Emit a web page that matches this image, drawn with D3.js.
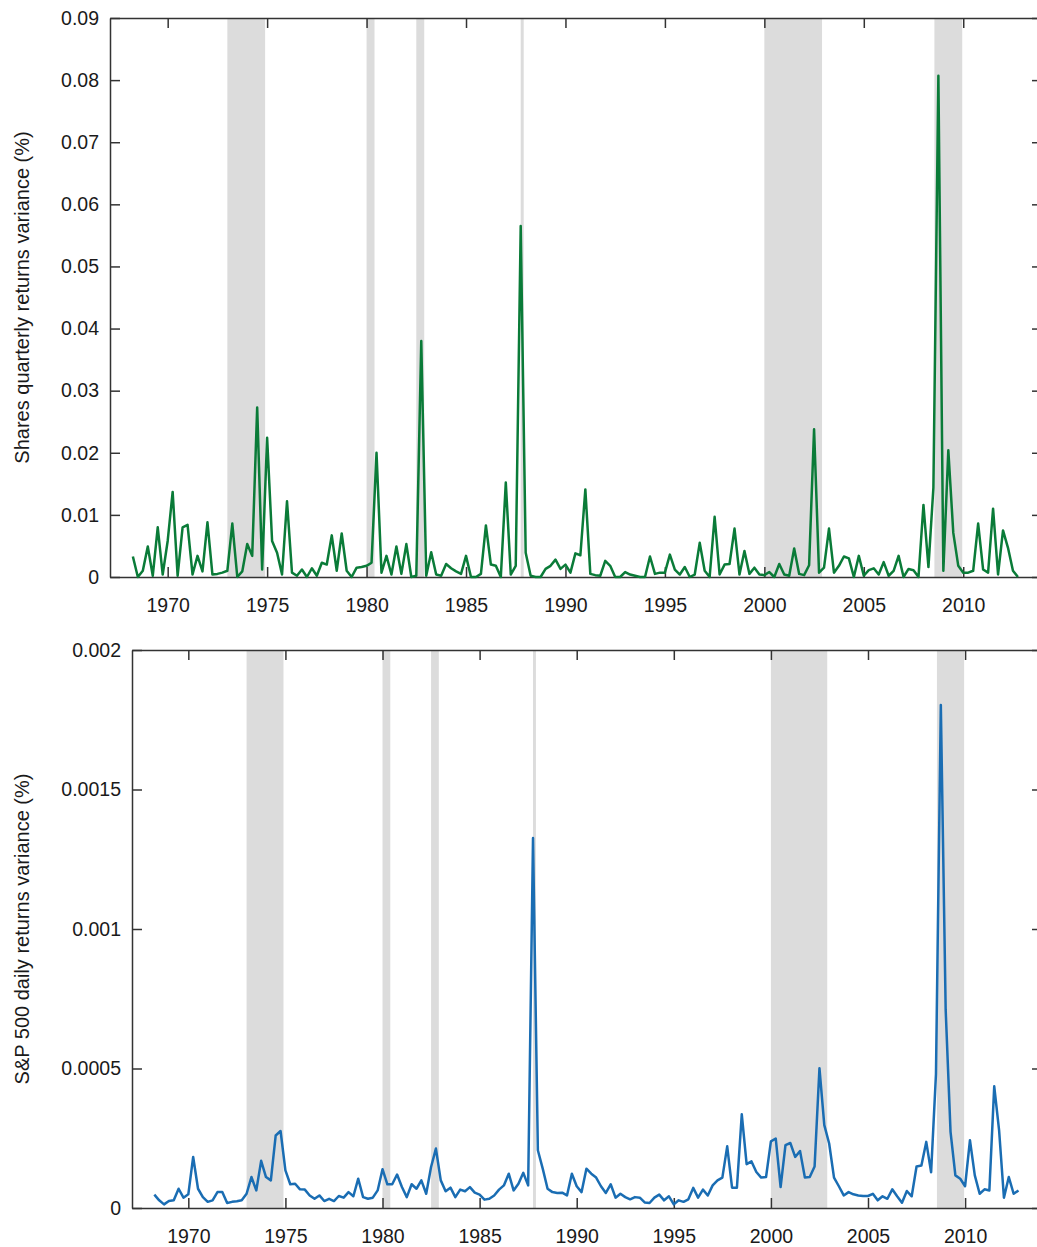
<!DOCTYPE html>
<html>
<head>
<meta charset="utf-8">
<script src="https://cdn.jsdelivr.net/npm/d3@7"></script>
<style>
  body { margin: 0; background: #fff; }
  text { font-family: "Liberation Sans", Arial, sans-serif; }
</style>
</head>
<body>
<script>
// Quarterly observations, first one at 1968.25, one every quarter
const startYear = 1968.25;
const step = 0.25;

// Shares quarterly returns variance (%)
const sharesVar = [
  0.0033, 0.0000, 0.0010, 0.0049, 0.0002, 0.0080, 0.0004, 0.0058, 0.0137, 0.0002,
  0.0080, 0.0084, 0.0004, 0.0034, 0.0009, 0.0088, 0.0004, 0.0005, 0.0007, 0.0010,
  0.0086, 0.0000, 0.0009, 0.0053, 0.0034, 0.0273, 0.0012, 0.0224, 0.0058, 0.0039,
  0.0004, 0.0122, 0.0007, 0.0002, 0.0012, 0.0000, 0.0014, 0.0002, 0.0023, 0.0020,
  0.0067, 0.0010, 0.0070, 0.0010, 0.0000, 0.0015, 0.0016, 0.0018, 0.0023, 0.0200,
  0.0007, 0.0034, 0.0004, 0.0049, 0.0005, 0.0053, 0.0000, 0.0002, 0.0380, 0.0002,
  0.0040, 0.0004, 0.0002, 0.0021, 0.0014, 0.0009, 0.0005, 0.0034, 0.0000, 0.0000,
  0.0005, 0.0083, 0.0020, 0.0018, 0.0000, 0.0152, 0.0004, 0.0018, 0.0565, 0.0039,
  0.0002, 0.0000, 0.0000, 0.0013, 0.0018, 0.0028, 0.0013, 0.0020, 0.0007, 0.0038,
  0.0035, 0.0141, 0.0005, 0.0003, 0.0002, 0.0026, 0.0018, 0.0000, 0.0000, 0.0008,
  0.0004, 0.0002, 0.0000, 0.0000, 0.0033, 0.0005, 0.0007, 0.0007, 0.0036, 0.0012,
  0.0004, 0.0016, 0.0000, 0.0004, 0.0055, 0.0010, 0.0000, 0.0097, 0.0004, 0.0020,
  0.0021, 0.0078, 0.0004, 0.0042, 0.0005, 0.0015, 0.0004, 0.0003, 0.0008, 0.0000,
  0.0021, 0.0004, 0.0002, 0.0046, 0.0005, 0.0003, 0.0019, 0.0238, 0.0007, 0.0015,
  0.0078, 0.0007, 0.0018, 0.0033, 0.0030, 0.0000, 0.0034, 0.0002, 0.0011, 0.0014,
  0.0004, 0.0024, 0.0002, 0.0010, 0.0034, 0.0000, 0.0013, 0.0011, 0.0000, 0.0116,
  0.0016, 0.0144, 0.0807, 0.0010, 0.0204, 0.0071, 0.0018, 0.0007, 0.0007, 0.0010,
  0.0086, 0.0012, 0.0007, 0.0110, 0.0004, 0.0075, 0.0047, 0.0010, 0.0000
];

// S&P 500 daily returns variance (%)
const spVar = [
  4.8e-5, 2.75e-5, 1.3e-5, 2.5e-5, 2.75e-5, 6.9e-5, 3.7e-5, 4.9e-5, 1.83e-4, 6.9e-5,
  3.9e-5, 2.2e-5, 2.75e-5, 5.7e-5, 5.7e-5, 1.8e-5, 2.2e-5, 2.4e-5, 2.75e-5, 5.1e-5,
  1.11e-4, 6.3e-5, 1.69e-4, 1.11e-4, 9.9e-5, 2.6e-4, 2.76e-4, 1.35e-4, 8.5e-5, 8.7e-5,
  6.7e-5, 6.6e-5, 4.5e-5, 3.3e-5, 4.5e-5, 2.5e-5, 3.3e-5, 2.5e-5, 4.3e-5, 3.7e-5,
  5.7e-5, 4.2e-5, 1.05e-4, 3.9e-5, 3.3e-5, 3.7e-5, 6.3e-5, 1.39e-4, 8.5e-5, 8.5e-5,
  1.2e-4, 7.5e-5, 3.9e-5, 8.5e-5, 6.9e-5, 9.9e-5, 5.1e-5, 1.47e-4, 2.13e-4, 9.9e-5,
  6.0e-5, 7.3e-5, 3.9e-5, 6.6e-5, 6.0e-5, 7.5e-5, 5.5e-5, 4.8e-5, 3.0e-5, 3.3e-5,
  4.5e-5, 6.6e-5, 8.1e-5, 1.23e-4, 6.3e-5, 8.7e-5, 1.26e-4, 8.1e-5, 1.326e-3, 2.07e-4,
  1.41e-4, 6.9e-5, 5.7e-5, 5.4e-5, 5.5e-5, 4.5e-5, 1.23e-4, 7.8e-5, 5.7e-5, 1.41e-4,
  1.23e-4, 1.09e-4, 7.8e-5, 5.4e-5, 8.5e-5, 3.7e-5, 5.1e-5, 3.9e-5, 3.1e-5, 3.9e-5,
  3.7e-5, 2.0e-5, 1.8e-5, 3.7e-5, 4.8e-5, 2.75e-5, 4.2e-5, 1.3e-5, 2.75e-5, 2.2e-5,
  3.1e-5, 7.2e-5, 3.7e-5, 6.6e-5, 4.5e-5, 8.1e-5, 9.9e-5, 1.09e-4, 2.21e-4, 7.3e-5,
  7.3e-5, 3.36e-4, 1.57e-4, 1.67e-4, 1.29e-4, 1.09e-4, 1.11e-4, 2.39e-4, 2.49e-4, 7.5e-5,
  2.25e-4, 2.33e-4, 1.83e-4, 2.04e-4, 1.09e-4, 1.11e-4, 1.49e-4, 5.01e-4, 2.97e-4, 2.31e-4,
  1.09e-4, 7.8e-5, 4.5e-5, 5.7e-5, 4.9e-5, 4.5e-5, 4.3e-5, 4.3e-5, 5.1e-5, 2.75e-5,
  4.2e-5, 3.3e-5, 6.7e-5, 4.2e-5, 1.9e-5, 6.1e-5, 4.2e-5, 1.49e-4, 1.52e-4, 2.37e-4,
  1.28e-4, 4.8e-4, 1.803e-3, 7.1e-4, 2.73e-4, 1.17e-4, 1.05e-4, 7.8e-5, 2.43e-4, 1.17e-4,
  5.1e-5, 6.7e-5, 6.3e-5, 4.36e-4, 2.79e-4, 3.7e-5, 1.11e-4, 5.1e-5, 6.3e-5
];

// Recession bands [start, end] in years
const recessions = [
  [1973.0, 1974.9], [1980.0, 1980.4], [1982.5, 1982.9],
  [1987.75, 1987.9], [2000.0, 2002.9], [2008.55, 2009.95]
];

const xTicks = [1970, 1975, 1980, 1985, 1990, 1995, 2000, 2005, 2010];
const sharesTicks = [0, 0.01, 0.02, 0.03, 0.04, 0.05, 0.06, 0.07, 0.08, 0.09];
const spTicks = [0, 0.0005, 0.001, 0.0015, 0.002];

const width = 1037, height = 1247;
const svg = d3.select('body').append('svg')
  .attr('width', width)
  .attr('height', height);

const axisColor = '#333';
const shadeColor = '#dcdcdc';

function drawPanel(opts) {
  const {left, right, top, bottom, yMax, values, yTicks, yFormat, color, label} = opts;

  const x = d3.scaleLinear().domain([1967.1, 2013.96]).range([left, right]);
  const y = d3.scaleLinear().domain([0, yMax]).range([bottom, top]);

  const g = svg.append('g');

  // recession shading
  g.selectAll('rect.rec')
    .data(recessions)
    .join('rect')
    .attr('class', 'rec')
    .attr('x', d => x(d[0]))
    .attr('width', d => x(d[1]) - x(d[0]))
    .attr('y', top)
    .attr('height', bottom - top)
    .attr('fill', shadeColor);

  const styleAxis = sel => {
    sel.select('.domain').attr('stroke', axisColor).attr('stroke-width', 1.5);
    sel.selectAll('.tick line').attr('stroke', axisColor).attr('stroke-width', 1.5);
    sel.selectAll('.tick text')
      .attr('fill', '#1a1a1a')
      .style('font-size', '19.5px');
  };

  g.append('g')
    .attr('transform', `translate(0,${bottom})`)
    .call(d3.axisBottom(x).tickValues(xTicks).tickFormat(d3.format('d'))
      .tickSizeInner(-10).tickSizeOuter(0).tickPadding(21))
    .call(styleAxis)
    .attr('font-family', null);

  g.append('g')
    .attr('transform', `translate(0,${top})`)
    .call(d3.axisTop(x).tickValues(xTicks).tickFormat('')
      .tickSizeInner(-10).tickSizeOuter(0))
    .call(styleAxis);

  g.append('g')
    .attr('transform', `translate(${left},0)`)
    .call(d3.axisLeft(y).tickValues(yTicks).tickFormat(yFormat)
      .tickSizeInner(-10).tickSizeOuter(0).tickPadding(11))
    .call(styleAxis)
    .attr('font-family', null);

  g.append('g')
    .attr('transform', `translate(${right},0)`)
    .call(d3.axisRight(y).tickValues(yTicks).tickFormat('')
      .tickSizeInner(-10).tickSizeOuter(0))
    .call(styleAxis);

  // series
  const line = d3.line()
    .x((d, i) => x(startYear + i * step))
    .y(d => y(d));

  g.append('path')
    .datum(values)
    .attr('d', line)
    .attr('fill', 'none')
    .attr('stroke', color)
    .attr('stroke-width', 2.5)
    .attr('stroke-linejoin', 'round');

  g.append('text')
    .attr('transform', `translate(29,${(top + bottom) / 2}) rotate(-90)`)
    .attr('text-anchor', 'middle')
    .attr('fill', '#1a1a1a')
    .style('font-size', '20px')
    .text(label);
}

drawPanel({
  left: 110, right: 1042, top: 18, bottom: 577,
  yMax: 0.09, values: sharesVar, yTicks: sharesTicks,
  yFormat: d => d === 0 ? '0' : d3.format('.2f')(d),
  color: '#0a7b38',
  label: 'Shares quarterly returns variance (%)'
});

drawPanel({
  left: 132, right: 1042, top: 650, bottom: 1208,
  yMax: 0.002, values: spVar, yTicks: spTicks,
  yFormat: d => d === 0 ? '0' : String(+d.toFixed(4)),
  color: '#1a6db3',
  label: 'S&P 500 daily returns variance (%)'
});
</script>
</body>
</html>
